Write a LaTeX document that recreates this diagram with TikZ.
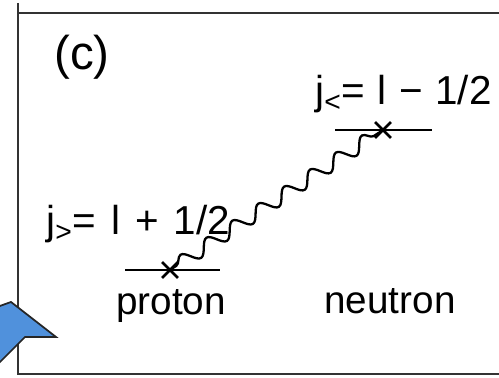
\documentclass[tikz,border=0pt]{standalone}
\usepackage{fontspec}
\setmainfont{Liberation Sans}
\usetikzlibrary{decorations.pathmorphing,shapes.misc}
\definecolor{arrowblue}{RGB}{80,145,220}
\newcommand{\gap}{\hspace{0.3cm}}
\begin{document}
\begin{tikzpicture}[
  level/.style={line width=1.6pt},
  frame/.style={line width=1.1pt, black!80},
  lbl/.style={font=\fontsize{23}{26}\selectfont, inner sep=0pt},
  mark x/.style={draw, cross out, minimum size=0.26cm, inner sep=0pt, line width=1.6pt}]
  \useasboundingbox (0,0) rectangle (9.98,7.56);
  % panel frame
  \draw[frame] (0.36,7.50) -- (0.36,0.08) -- (9.98,0.08);
  \draw[frame] (0.36,7.30) -- (9.98,7.30);
  % blue arrow, cut at the edge
  \begin{scope}
    \clip (0,0) rectangle (9.98,7.56);
    \filldraw[fill=arrowblue, draw=black!85, line width=1pt] (-0.2,1.37) -- (0.22,1.52) -- (1.12,0.82) -- (0.50,0.82) -- (-0.2,0.12) -- cycle;
  \end{scope}
  \node[font=\fontsize{27}{30}\selectfont] (panel) at (1.64,6.42) {(c)};
  % levels
  \coordinate (pl) at (2.50,2.16);
  \coordinate (pr) at (4.40,2.16);
  \coordinate (nl) at (6.70,4.96);
  \coordinate (nr) at (8.64,4.96);
  \draw[level] (pl) -- (pr);
  \draw[level] (nl) -- (nr);
  \node[mark x] (px) at (3.40,2.16) {};
  \node[mark x] (nx) at (7.66,4.96) {};
  \draw[line width=1.3pt, decorate, decoration={snake, segment length=0.62cm, amplitude=0.14cm, pre length=0.15cm, post length=0.15cm}] (px.center) -- (nx.center);
  % labels
  \node[lbl, anchor=base west] (jlow) at (0.92,2.86) {j\textsubscript{>}=\gap l\gap +\gap 1/2};
  \node[lbl, anchor=base west] (jup) at (6.30,5.46) {j\textsubscript{<}=\hspace{0.25cm}l\hspace{0.25cm}−\hspace{0.25cm}1/2};
  \node[lbl, font=\fontsize{22}{26}\selectfont, anchor=base] (prot) at (3.42,1.26) {proton};
  \node[lbl, font=\fontsize{22}{26}\selectfont, anchor=base] (neut) at (7.80,1.28) {neutron};
\end{tikzpicture}
\end{document}
